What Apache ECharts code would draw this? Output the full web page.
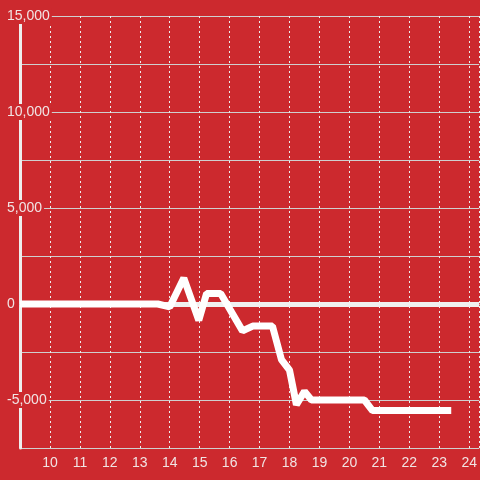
<!DOCTYPE html>
<html><head><meta charset="utf-8">
<script src="https://cdn.jsdelivr.net/npm/echarts@6/dist/echarts.min.js"></script>
<style>html,body{margin:0;padding:0;background:#cc292e;}#c{width:480px;height:480px;}</style>
</head><body><div id="c"></div>
<script>
const xValues = [9, 13.6, 14.0, 14.47, 14.97, 15.23, 15.7, 16.43, 16.77, 17.43, 17.73, 18.0, 18.23, 18.5, 18.73, 20.5, 20.77, 23.4];
const yValues = [0, 0, -150, 1350, -850, 550, 550, -1400, -1150, -1150, -2900, -3450, -5250, -4550, -5000, -5000, -5550, -5550];
const yLabelValues = [15000, 10000, 5000, 0, -5000];

const data = xValues.map((x, i) => [x, yValues[i]]);
const chart = echarts.init(document.getElementById('c'));
const labelColor = '#f1e4e4';
chart.setOption({
  backgroundColor: '#cc292e',
  animation: false,
  textStyle: {fontFamily: 'Liberation Sans'},
  grid: {left: 20, right: 0, top: 16, bottom: 32, containLabel: false},
  xAxis: {
    type: 'value', min: 9, max: 24.3333, interval: 1,
    axisLine: {show: true, lineStyle: {color: '#d8d8d8', width: 1}},
    axisTick: {show: false},
    axisLabel: {color: labelColor, fontSize: 14, margin: 8, showMinLabel: false, showMaxLabel: false, fontFamily: 'Liberation Sans'},
    splitLine: {show: true, lineStyle: {color: '#eeeeee', type: [2, 3], width: 1}}
  },
  yAxis: {
    type: 'value', min: -7500, max: 15000, interval: 2500,
    axisLine: {show: true, lineStyle: {color: '#eeeeee', width: 3}},
    axisTick: {show: false},
    splitLine: {show: true, lineStyle: {color: '#cfcfcf', width: 1}},
    axisLabel: {
      color: labelColor, fontSize: 14, margin: 13, align: 'left', fontFamily: 'Liberation Sans',
      backgroundColor: '#cc292e', padding: [1, 2, 1, 0],
      formatter: v => yLabelValues.includes(v) ? v.toLocaleString('en-US') : ''
    }
  },
  series: [{
    type: 'line', data: data, symbol: 'none',
    lineStyle: {color: '#ffffff', width: 7},
    z: 5,
    markLine: {
      silent: true, symbol: 'none', label: {show: false},
      lineStyle: {color: '#f0f0f0', width: 5, type: 'solid'},
      data: [{yAxis: 0}], z: 4
    }
  }]
});
</script></body></html>
